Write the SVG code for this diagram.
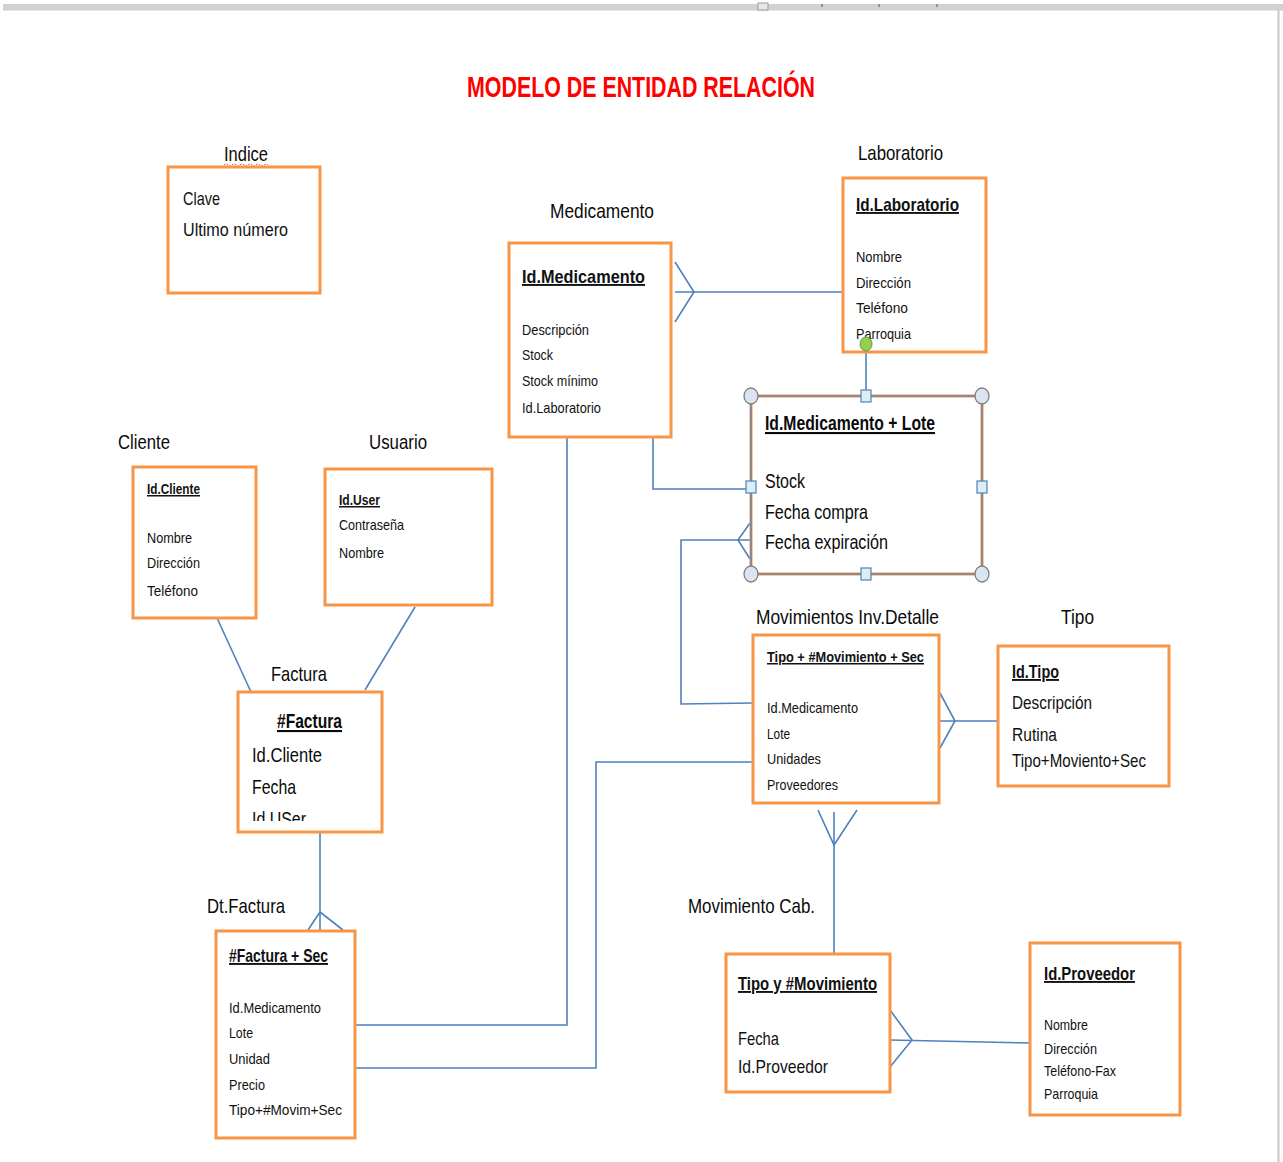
<svg xmlns="http://www.w3.org/2000/svg" width="1283" height="1162" viewBox="0 0 1283 1162">
<style>
text{font-family:"Liberation Sans Narrow","Liberation Sans",Arial,sans-serif;fill:#111;}
.title{font-size:30px;font-weight:bold;fill:#ff0000;}
.lbl{font-size:21px;fill:#0a0a0a;}
.pk{font-weight:bold;text-decoration:underline;}
.s{font-size:15px;}
.m{font-size:19px;}
.box{fill:#fff;stroke:#f79646;stroke-width:3;}
.con{fill:none;stroke:#4f81bd;stroke-width:1.6;}
.hc{fill:#dbe5f1;stroke:#7f7f7f;stroke-width:1.3;}
.hs{fill:#dbeef4;stroke:#4f81bd;stroke-width:1.2;}
</style>
<defs>
<clipPath id="facClip"><rect x="238" y="692" width="144" height="129"/></clipPath>
</defs>
<rect x="0" y="0" width="1283" height="1162" fill="#fff"/>
<rect x="3" y="4" width="1280" height="6" fill="#cfd1d4"/>
<line x1="3" y1="10.5" x2="1283" y2="10.5" stroke="#e6e6e6" stroke-width="1"/>
<rect x="758" y="3" width="10" height="7" fill="#e8e8e8" stroke="#999" stroke-width="1"/>
<line x1="822" y1="4" x2="822" y2="7" stroke="#555"/>
<line x1="879" y1="4" x2="879" y2="7" stroke="#555"/>
<line x1="937" y1="4" x2="937" y2="7" stroke="#555"/>
<line x1="1278.5" y1="10" x2="1278.5" y2="1162" stroke="#c8c8c8" stroke-width="2"/>

<text class="title" x="467" y="97" textLength="348" lengthAdjust="spacingAndGlyphs">MODELO DE ENTIDAD RELACIÓN</text>

<g id="connectors">
  <polyline class="con" points="675,262 694,292 675,322"/>
  <line class="con" x1="675" y1="292" x2="843" y2="292"/>
  <line class="con" x1="866" y1="350" x2="866" y2="396"/>
  <polyline class="con" points="653,437 653,489 751,489"/>
  <polyline class="con" points="750,523 738,540 750,559"/>
  <polyline class="con" points="753,540 681,540 681,704 753,703"/>
  <polyline class="con" points="567,437 567,1025 355,1025"/>
  <polyline class="con" points="355,1068 596,1068 596,762 753,762"/>
  <line class="con" x1="217" y1="618" x2="251" y2="692"/>
  <line class="con" x1="415" y1="607" x2="365" y2="690"/>
  <line class="con" x1="320" y1="832" x2="320" y2="930"/>
  <polyline class="con" points="308,930 320,912 343,930"/>
  <polyline class="con" points="940,693 955,721 940,748"/>
  <line class="con" x1="940" y1="721" x2="997" y2="721"/>
  <polyline class="con" points="818,810 834,845 857,810"/>
  <line class="con" x1="834" y1="812" x2="834" y2="955"/>
  <polyline class="con" points="890,1010 912,1040 890,1067"/>
  <line class="con" x1="890" y1="1040" x2="1030" y2="1043"/>
</g>

<g id="indice">
  <text class="lbl" x="224" y="161" textLength="44" lengthAdjust="spacingAndGlyphs">Indice</text>
  <path d="M224,165 q2,-2 4,0 t4,0 t4,0 t4,0 t4,0 t4,0 t4,0 t4,0 t4,0 t4,0 t4,0" fill="none" stroke="#e03030" stroke-width="1" stroke-dasharray="1.5,1.5"/>
  <rect class="box" x="168" y="167" width="152" height="126"/>
  <text class="m" x="183" y="205" textLength="37" lengthAdjust="spacingAndGlyphs">Clave</text>
  <text class="m" x="183" y="236" textLength="105" lengthAdjust="spacingAndGlyphs">Ultimo número</text>
</g>

<g id="medicamento">
  <text class="lbl" x="550" y="218" textLength="104" lengthAdjust="spacingAndGlyphs">Medicamento</text>
  <rect class="box" x="509" y="243" width="162" height="194"/>
  <text class="m pk" x="522" y="283" textLength="123" lengthAdjust="spacingAndGlyphs">Id.Medicamento</text>
  <text class="s" x="522" y="335" textLength="67" lengthAdjust="spacingAndGlyphs">Descripción</text>
  <text class="s" x="522" y="360" textLength="31" lengthAdjust="spacingAndGlyphs">Stock</text>
  <text class="s" x="522" y="386" textLength="76" lengthAdjust="spacingAndGlyphs">Stock mínimo</text>
  <text class="s" x="522" y="413" textLength="79" lengthAdjust="spacingAndGlyphs">Id.Laboratorio</text>
</g>

<g id="laboratorio">
  <text class="lbl" x="858" y="160" textLength="85" lengthAdjust="spacingAndGlyphs">Laboratorio</text>
  <rect class="box" x="843" y="178" width="143" height="174"/>
  <text class="m pk" x="856" y="211" textLength="103" lengthAdjust="spacingAndGlyphs">Id.Laboratorio</text>
  <text class="s" x="856" y="262" textLength="46" lengthAdjust="spacingAndGlyphs">Nombre</text>
  <text class="s" x="856" y="288" textLength="55" lengthAdjust="spacingAndGlyphs">Dirección</text>
  <text class="s" x="856" y="313" textLength="52" lengthAdjust="spacingAndGlyphs">Teléfono</text>
  <text class="s" x="856" y="339" textLength="55" lengthAdjust="spacingAndGlyphs">Parroquia</text>
  <ellipse cx="866" cy="344" rx="6" ry="7" fill="#92d050" stroke="#6a9a3a" stroke-width="1"/>
</g>

<g id="lote">
  <rect x="751" y="396" width="231" height="178" fill="#fff" stroke="#f79646" stroke-width="3"/>
  <rect x="751" y="396" width="231" height="178" fill="none" stroke="#4f81bd" stroke-width="1.3"/>
  <text class="lbl pk" x="765" y="430" textLength="170" lengthAdjust="spacingAndGlyphs">Id.Medicamento + Lote</text>
  <text class="lbl" x="765" y="488" textLength="40" lengthAdjust="spacingAndGlyphs">Stock</text>
  <text class="lbl" x="765" y="519" textLength="103" lengthAdjust="spacingAndGlyphs">Fecha compra</text>
  <text class="lbl" x="765" y="549" textLength="123" lengthAdjust="spacingAndGlyphs">Fecha expiración</text>
  <ellipse class="hc" cx="751" cy="396" rx="7" ry="8"/>
  <ellipse class="hc" cx="982" cy="396" rx="7" ry="8"/>
  <ellipse class="hc" cx="751" cy="574" rx="7" ry="8"/>
  <ellipse class="hc" cx="982" cy="574" rx="7" ry="8"/>
  <rect class="hs" x="861" y="390" width="10" height="12"/>
  <rect class="hs" x="861" y="568" width="10" height="12"/>
  <rect class="hs" x="746" y="481" width="10" height="12"/>
  <rect class="hs" x="977" y="481" width="10" height="12"/>
</g>

<g id="cliente">
  <text class="lbl" x="118" y="449" textLength="52" lengthAdjust="spacingAndGlyphs">Cliente</text>
  <rect class="box" x="133" y="467" width="123" height="151"/>
  <text class="s pk" x="147" y="494" textLength="53" lengthAdjust="spacingAndGlyphs">Id.Cliente</text>
  <text class="s" x="147" y="543" textLength="45" lengthAdjust="spacingAndGlyphs">Nombre</text>
  <text class="s" x="147" y="568" textLength="53" lengthAdjust="spacingAndGlyphs">Dirección</text>
  <text class="s" x="147" y="596" textLength="51" lengthAdjust="spacingAndGlyphs">Teléfono</text>
</g>

<g id="usuario">
  <text class="lbl" x="369" y="449" textLength="58" lengthAdjust="spacingAndGlyphs">Usuario</text>
  <rect class="box" x="325" y="469" width="167" height="136"/>
  <text class="s pk" x="339" y="505" textLength="41" lengthAdjust="spacingAndGlyphs">Id.User</text>
  <text class="s" x="339" y="530" textLength="65" lengthAdjust="spacingAndGlyphs">Contraseña</text>
  <text class="s" x="339" y="558" textLength="45" lengthAdjust="spacingAndGlyphs">Nombre</text>
</g>

<g id="factura">
  <text class="lbl" x="271" y="681" textLength="56" lengthAdjust="spacingAndGlyphs">Factura</text>
  <rect class="box" x="238" y="692" width="144" height="140"/>
  <text class="lbl pk" x="277" y="728" textLength="65" lengthAdjust="spacingAndGlyphs">#Factura</text>
  <text class="lbl" x="252" y="762" textLength="70" lengthAdjust="spacingAndGlyphs">Id.Cliente</text>
  <text class="lbl" x="252" y="794" textLength="44" lengthAdjust="spacingAndGlyphs">Fecha</text>
  <text class="lbl" x="252" y="826" textLength="54" lengthAdjust="spacingAndGlyphs" clip-path="url(#facClip)">Id.USer</text>
</g>

<g id="dtfactura">
  <text class="lbl" x="207" y="913" textLength="78" lengthAdjust="spacingAndGlyphs">Dt.Factura</text>
  <rect class="box" x="216" y="931" width="139" height="207"/>
  <text class="m pk" x="229" y="962" textLength="99" lengthAdjust="spacingAndGlyphs">#Factura + Sec</text>
  <text class="s" x="229" y="1013" textLength="92" lengthAdjust="spacingAndGlyphs">Id.Medicamento</text>
  <text class="s" x="229" y="1038" textLength="24" lengthAdjust="spacingAndGlyphs">Lote</text>
  <text class="s" x="229" y="1064" textLength="41" lengthAdjust="spacingAndGlyphs">Unidad</text>
  <text class="s" x="229" y="1090" textLength="36" lengthAdjust="spacingAndGlyphs">Precio</text>
  <text class="s" x="229" y="1115" textLength="113" lengthAdjust="spacingAndGlyphs">Tipo+#Movim+Sec</text>
</g>

<g id="movdetalle">
  <text class="lbl" x="756" y="624" textLength="183" lengthAdjust="spacingAndGlyphs">Movimientos Inv.Detalle</text>
  <rect class="box" x="753" y="635" width="186" height="168"/>
  <text class="s pk" x="767" y="662" textLength="157" lengthAdjust="spacingAndGlyphs">Tipo + #Movimiento + Sec</text>
  <text class="s" x="767" y="713" textLength="91" lengthAdjust="spacingAndGlyphs">Id.Medicamento</text>
  <text class="s" x="767" y="739" textLength="23" lengthAdjust="spacingAndGlyphs">Lote</text>
  <text class="s" x="767" y="764" textLength="54" lengthAdjust="spacingAndGlyphs">Unidades</text>
  <text class="s" x="767" y="790" textLength="71" lengthAdjust="spacingAndGlyphs">Proveedores</text>
</g>

<g id="tipo">
  <text class="lbl" x="1061" y="624" textLength="33" lengthAdjust="spacingAndGlyphs">Tipo</text>
  <rect class="box" x="998" y="646" width="171" height="140"/>
  <text class="m pk" x="1012" y="678" textLength="47" lengthAdjust="spacingAndGlyphs">Id.Tipo</text>
  <text class="m" x="1012" y="709" textLength="80" lengthAdjust="spacingAndGlyphs">Descripción</text>
  <text class="m" x="1012" y="741" textLength="45" lengthAdjust="spacingAndGlyphs">Rutina</text>
  <text class="m" x="1012" y="767" textLength="134" lengthAdjust="spacingAndGlyphs">Tipo+Moviento+Sec</text>
</g>

<g id="movcab">
  <text class="lbl" x="688" y="913" textLength="127" lengthAdjust="spacingAndGlyphs">Movimiento Cab.</text>
  <rect class="box" x="726" y="954" width="164" height="138"/>
  <text class="m pk" x="738" y="990" textLength="139" lengthAdjust="spacingAndGlyphs">Tipo y #Movimiento</text>
  <text class="m" x="738" y="1045" textLength="41" lengthAdjust="spacingAndGlyphs">Fecha</text>
  <text class="m" x="738" y="1073" textLength="90" lengthAdjust="spacingAndGlyphs">Id.Proveedor</text>
</g>

<g id="proveedor">
  <rect class="box" x="1030" y="943" width="150" height="172"/>
  <text class="m pk" x="1044" y="980" textLength="91" lengthAdjust="spacingAndGlyphs">Id.Proveedor</text>
  <text class="s" x="1044" y="1030" textLength="44" lengthAdjust="spacingAndGlyphs">Nombre</text>
  <text class="s" x="1044" y="1054" textLength="53" lengthAdjust="spacingAndGlyphs">Dirección</text>
  <text class="s" x="1044" y="1076" textLength="72" lengthAdjust="spacingAndGlyphs">Teléfono-Fax</text>
  <text class="s" x="1044" y="1099" textLength="54" lengthAdjust="spacingAndGlyphs">Parroquia</text>
</g>
</svg>
